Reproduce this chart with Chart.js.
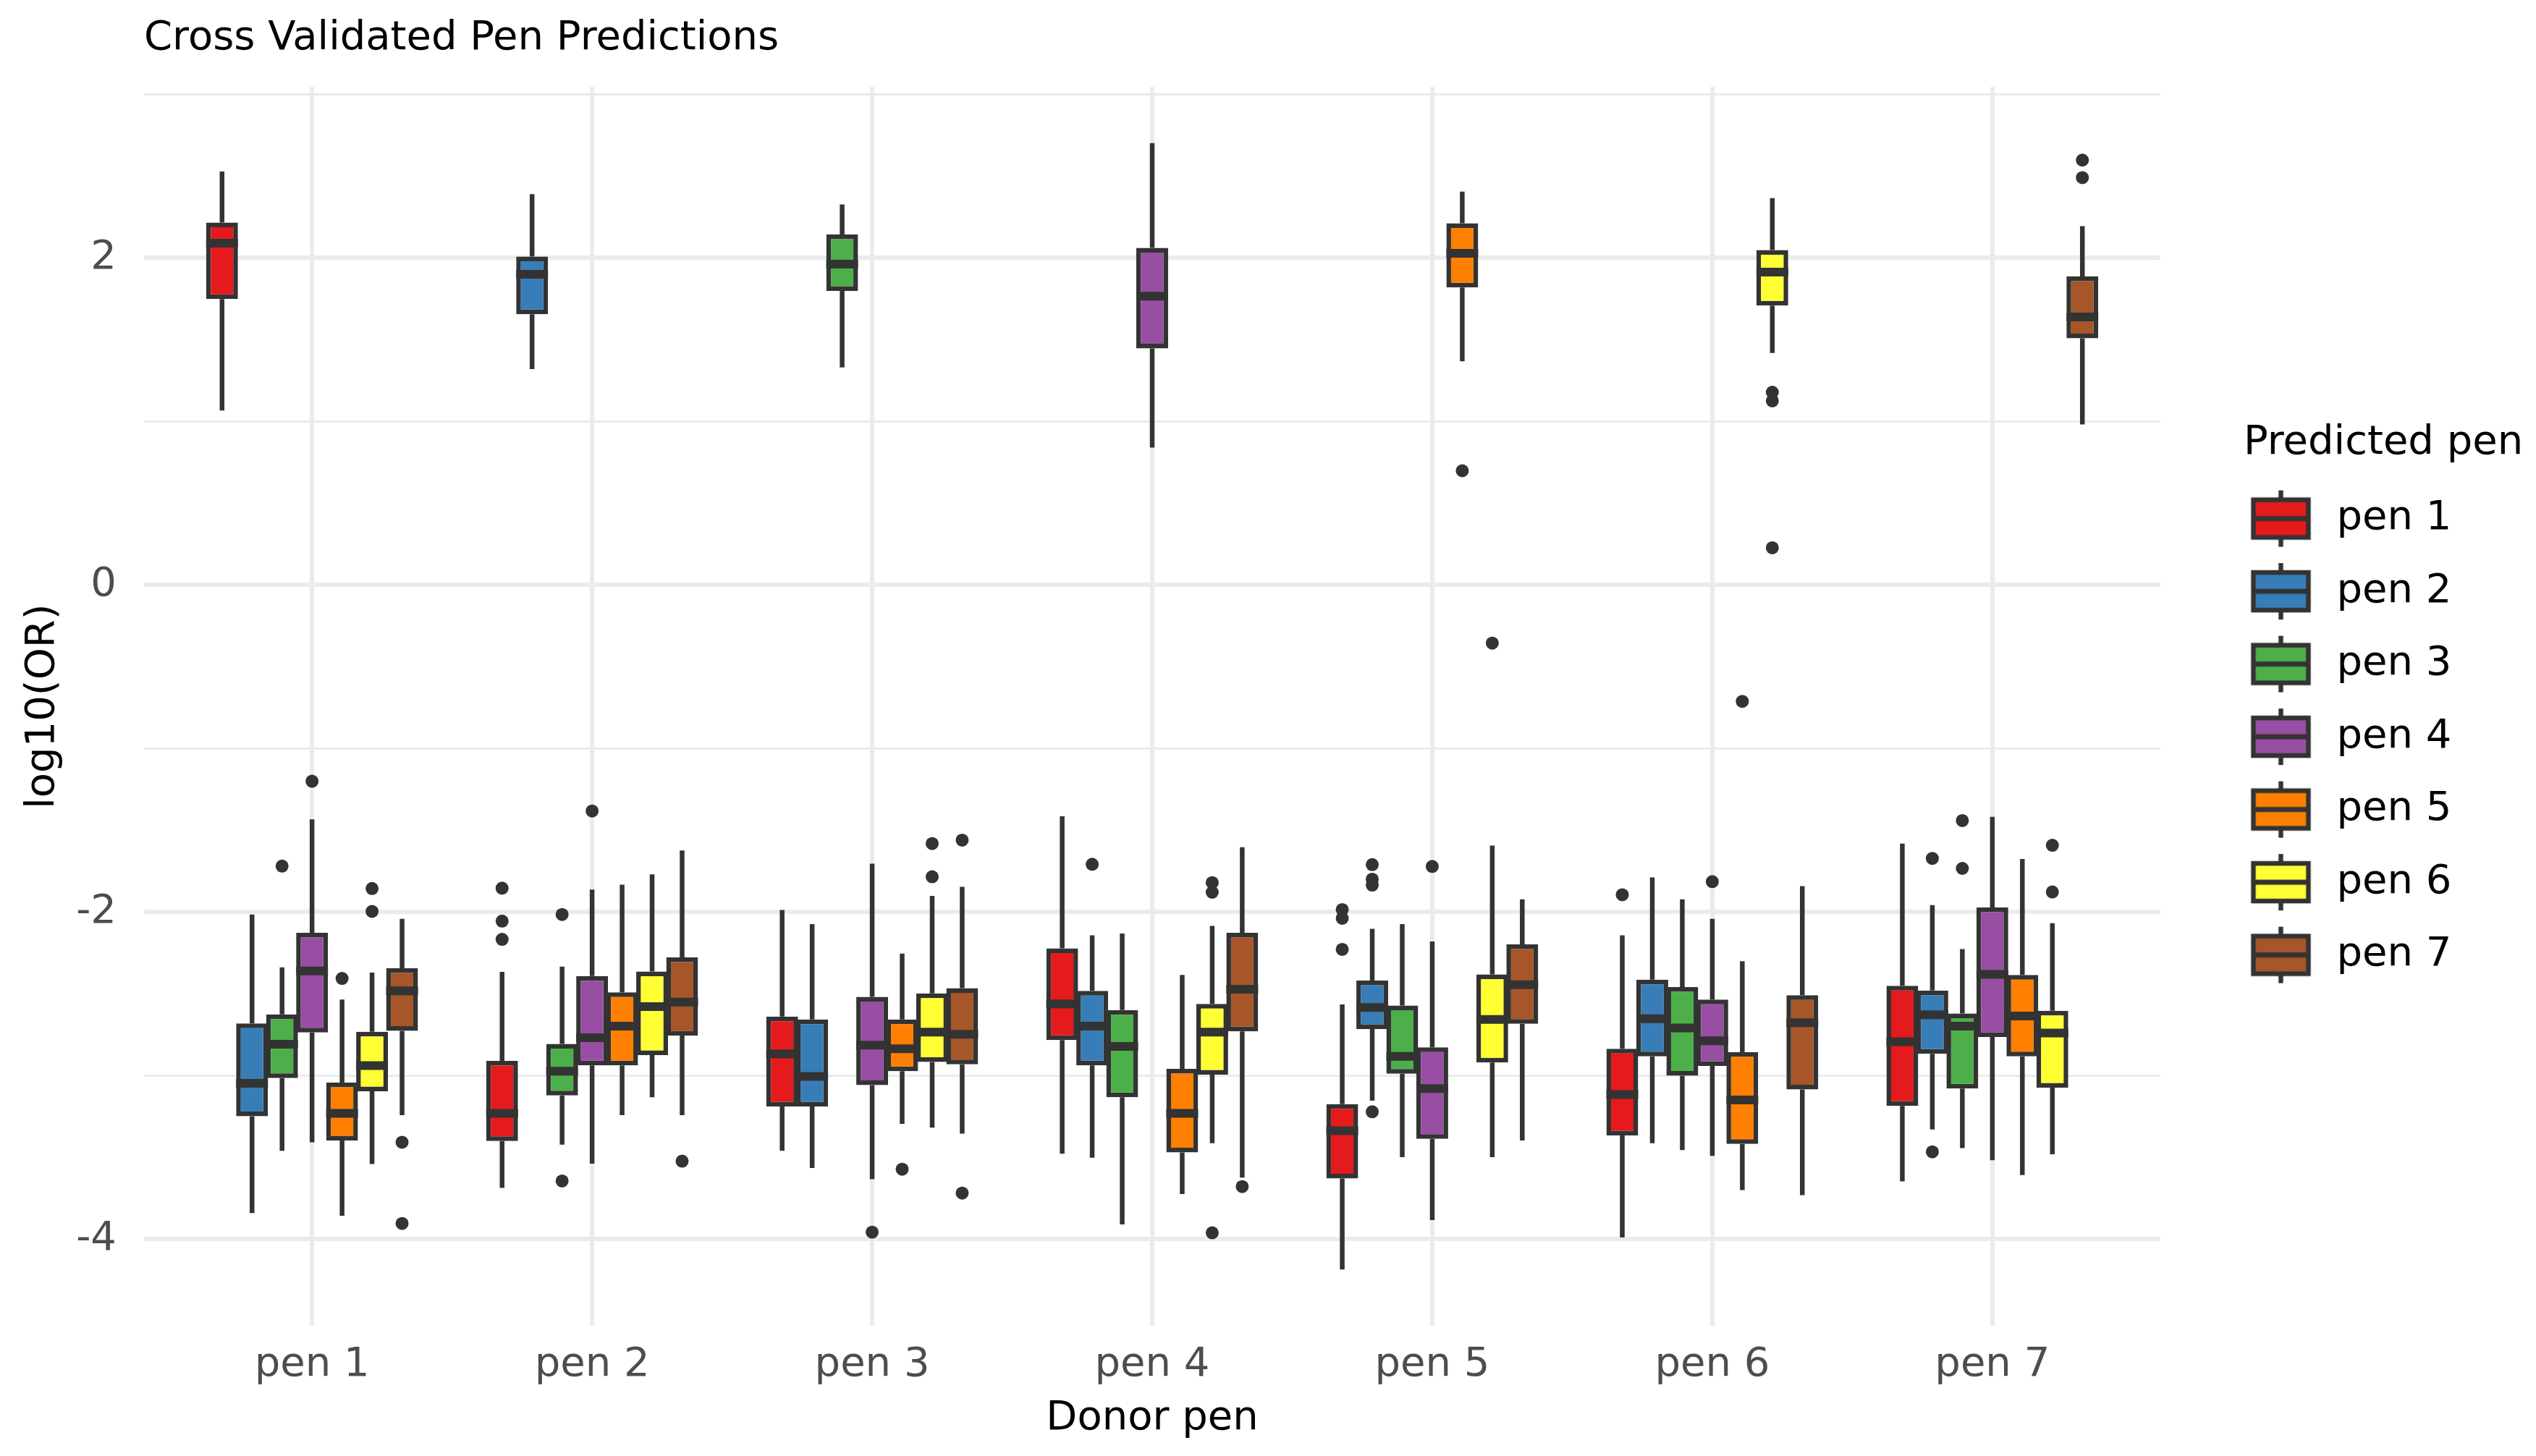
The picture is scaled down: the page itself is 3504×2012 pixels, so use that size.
<!DOCTYPE html>
<html>
<head>
<meta charset="utf-8">
<title>Cross Validated Pen Predictions</title>
<script src="https://cdn.jsdelivr.net/npm/chart.js@4.4.1/dist/chart.umd.min.js"></script>
<style>
    html, body { margin: 0; padding: 0; background: #ffffff; }
    #wrap { width: 3504px; height: 2012px; }
</style>
</head>
<body>
<div id="wrap"><canvas id="myChart" width="3504" height="2012"></canvas></div>
<script>
// Donor pens on the x axis, predicted pens as the dodged boxes
const donorPens = ["pen 1", "pen 2", "pen 3", "pen 4", "pen 5", "pen 6", "pen 7"];
const predictedPens = ["pen 1", "pen 2", "pen 3", "pen 4", "pen 5", "pen 6", "pen 7"];
const yTickLabels = ["-4", "-2", "0", "2"];

// rows = predicted pen, columns = donor pen (log10 OR)
const whiskerLow = [
    [1.066, -3.686, -3.460, -3.477, -4.185, -3.989, -3.646],
    [-3.840, 1.319, -3.565, -3.502, -3.153, -3.413, -3.329],
    [-3.460, -3.422, 1.329, -3.910, -3.498, -3.455, -3.443],
    [-3.407, -3.538, -3.633, 0.839, -3.883, -3.491, -3.517],
    [-3.857, -3.242, -3.295, -3.724, 1.367, -3.699, -3.608],
    [-3.540, -3.132, -3.318, -3.413, -3.498, 1.418, -3.481],
    [-3.242, -3.242, -3.354, -3.623, -3.396, -3.730, 0.981]
];
const lowerQuartile = [
    [1.747, -3.400, -3.189, -2.783, -3.629, -3.365, -3.185],
    [-3.248, 1.655, -3.189, -2.937, -2.715, -2.882, -2.867],
    [-3.015, -3.121, 1.797, -3.132, -2.988, -3.001, -3.079],
    [-2.736, -2.937, -3.058, 1.446, -3.386, -2.941, -2.764],
    [-3.396, -2.937, -2.973, -3.470, 1.818, -3.417, -2.882],
    [-3.096, -2.874, -2.916, -2.994, -2.920, 1.708, -3.073],
    [-2.726, -2.755, -2.931, -2.730, -2.683, -3.085, 1.508]
];
const medians = [
    [2.089, -3.231, -2.867, -2.561, -3.337, -3.115, -2.793],
    [-3.047, 1.899, -3.005, -2.698, -2.584, -2.652, -2.628],
    [-2.808, -2.973, 1.961, -2.821, -2.882, -2.709, -2.698],
    [-2.360, -2.768, -2.814, 1.765, -3.079, -2.787, -2.381],
    [-3.231, -2.698, -2.836, -3.231, 2.027, -3.149, -2.635],
    [-2.939, -2.578, -2.734, -2.734, -2.656, 1.912, -2.740],
    [-2.482, -2.550, -2.747, -2.472, -2.444, -2.677, 1.638]
];
const upperQuartile = [
    [2.215, -2.910, -2.639, -2.222, -3.174, -2.836, -2.451],
    [-2.681, 2.008, -2.656, -2.482, -2.419, -2.413, -2.480],
    [-2.626, -2.806, 2.142, -2.599, -2.571, -2.459, -2.620],
    [-2.127, -2.391, -2.518, 2.061, -2.827, -2.535, -1.972],
    [-3.043, -2.491, -2.656, -2.958, 2.211, -2.857, -2.385],
    [-2.732, -2.364, -2.497, -2.561, -2.381, 2.047, -2.603],
    [-2.343, -2.277, -2.465, -2.127, -2.197, -2.508, 1.886]
];
const whiskerHigh = [
    [2.527, -2.366, -1.987, -1.414, -2.565, -2.142, -1.581],
    [-2.015, 2.389, -2.074, -2.142, -2.102, -1.788, -1.958],
    [-2.338, -2.334, 2.326, -2.131, -2.074, -1.922, -2.226],
    [-1.433, -1.862, -1.704, 2.701, -2.180, -2.042, -1.418],
    [-2.535, -1.833, -2.254, -2.385, 2.405, -2.300, -1.676],
    [-2.370, -1.769, -1.901, -2.085, -1.594, 2.365, -2.068],
    [-2.042, -1.623, -1.846, -1.604, -1.922, -1.841, 2.193]
];
const outliers = [
    [[], [-1.854, -2.055, -2.167], [], [], [-1.985, -2.038, -2.228], [-1.894], []],
    [[], [], [], [-1.708], [-1.710, -1.799, -1.835, -3.221], [], [-1.672, -3.466]],
    [[-1.719], [-2.015, -3.644], [], [], [], [], [-1.441, -1.733]],
    [[-1.200], [-1.382], [-3.957], [], [-1.721], [-1.814], []],
    [[-2.406], [], [-3.572], [], [0.698], [-0.712], []],
    [[-1.856, -1.996], [], [-1.581, -1.784], [-1.820, -1.879, -3.961], [-0.356], [1.178, 1.125, 0.227], [-1.592, -1.877]],
    [[-3.407, -3.904], [-3.523], [-1.560, -3.718], [-3.678], [], [], [2.597, 2.490]]
];

// ColorBrewer Set1
const penColors = ["#E41A1C", "#377EB8", "#4DAF4A", "#984EA3", "#FF7F00", "#FFFF33", "#A65628"];
const ink = "#333333";
const gridColor = "#EBEBEB";

Chart.defaults.font.family = "'DejaVu Sans', sans-serif";
Chart.defaults.font.size = 56;
Chart.defaults.color = "#4D4D4D";

// small boxplot picture for each legend key
function makeLegendGlyph(color) {
    const c = document.createElement("canvas");
    c.width = 140;
    c.height = 84;
    const g = c.getContext("2d");
    const cx = 49, cy = 42;
    g.strokeStyle = ink;
    g.lineWidth = 6.5;
    g.beginPath();
    g.moveTo(cx, 3);
    g.lineTo(cx, 81);
    g.stroke();
    g.fillStyle = color;
    g.fillRect(cx - 38, cy - 26, 76, 52);
    g.strokeRect(cx - 38, cy - 26, 76, 52);
    g.lineWidth = 7;
    g.beginPath();
    g.moveTo(cx - 38, cy);
    g.lineTo(cx + 38, cy);
    g.stroke();
    return c;
}
const legendGlyphs = penColors.map(makeLegendGlyph);

// whiskers under the boxes, medians and outliers on top
const boxDetails = {
    id: "boxDetails",
    beforeDatasetsDraw(chart) {
        const ctx = chart.ctx;
        const y = chart.scales.y;
        ctx.save();
        ctx.strokeStyle = ink;
        ctx.lineWidth = 6.5;
        chart.data.datasets.forEach((ds, d) => {
            chart.getDatasetMeta(d).data.forEach((bar, c) => {
                ctx.beginPath();
                ctx.moveTo(bar.x, y.getPixelForValue(whiskerHigh[d][c]));
                ctx.lineTo(bar.x, y.getPixelForValue(upperQuartile[d][c]));
                ctx.moveTo(bar.x, y.getPixelForValue(lowerQuartile[d][c]));
                ctx.lineTo(bar.x, y.getPixelForValue(whiskerLow[d][c]));
                ctx.stroke();
            });
        });
        ctx.restore();
    },
    afterDatasetsDraw(chart) {
        const ctx = chart.ctx;
        const y = chart.scales.y;
        ctx.save();
        ctx.strokeStyle = ink;
        ctx.fillStyle = ink;
        chart.data.datasets.forEach((ds, d) => {
            chart.getDatasetMeta(d).data.forEach((bar, c) => {
                const my = y.getPixelForValue(medians[d][c]);
                ctx.lineWidth = 12;
                ctx.beginPath();
                ctx.moveTo(bar.x - bar.width / 2, my);
                ctx.lineTo(bar.x + bar.width / 2, my);
                ctx.stroke();
                outliers[d][c].forEach(v => {
                    ctx.beginPath();
                    ctx.arc(bar.x, y.getPixelForValue(v), 9, 0, Math.PI * 2);
                    ctx.fill();
                });
            });
        });
        ctx.restore();
    }
};

// legend box is made wide enough for its title, which Chart.js would clip
const legendWidth = {
    id: "legendWidth",
    beforeLayout(chart) {
        const lg = chart.legend;
        if (lg && !lg.widthPatched) {
            const fit = lg.fit.bind(lg);
            lg.fit = function () {
                fit();
                this.width = 404;
            };
            lg.widthPatched = true;
        }
    }
};

const datasets = predictedPens.map((name, d) => ({
    label: name,
    data: donorPens.map((p, c) => ({ x: c + 1, y: [lowerQuartile[d][c], upperQuartile[d][c]] })),
    backgroundColor: penColors[d],
    borderColor: ink,
    borderWidth: 6.5,
    borderSkipped: false,
    barPercentage: 1.06,
    categoryPercentage: 0.75
}));

new Chart(document.getElementById("myChart"), {
    type: "bar",
    data: { datasets },
    plugins: [boxDetails, legendWidth],
    options: {
        responsive: false,
        devicePixelRatio: 1,
        animation: false,
        events: [],
        layout: { padding: 0 },
        plugins: {
            tooltip: { enabled: false },
            title: {
                display: true,
                text: "Cross Validated Pen Predictions",
                align: "start",
                fullSize: false,
                color: "#000000",
                font: { size: 56, weight: "normal", lineHeight: 1.2 },
                padding: { top: 20, bottom: 33 }
            },
            legend: {
                position: "right",
                align: "center",
                fullSize: false,
                title: {
                    display: true,
                    text: "Predicted pen",
                    position: "start",
                    color: "#000000",
                    font: { size: 56, lineHeight: 1 },
                    padding: { top: 24, bottom: 4 }
                },
                labels: {
                    color: "#000000",
                    font: { size: 56 },
                    usePointStyle: true,
                    pointStyleWidth: 56,
                    padding: 44.5,
                    generateLabels: chart => chart.data.datasets.map((ds, i) => ({
                        text: ds.label,
                        datasetIndex: i,
                        pointStyle: legendGlyphs[i],
                        fillStyle: penColors[i],
                        strokeStyle: ink,
                        lineWidth: 0,
                        hidden: false
                    }))
                }
            }
        },
        scales: {
            x: {
                type: "linear",
                min: 0.4,
                max: 7.6,
                offset: false,
                grid: { color: gridColor, lineWidth: 6, drawTicks: false, offset: false },
                border: { display: false },
                ticks: {
                    stepSize: 1,
                    includeBounds: false,
                    autoSkip: false,
                    maxRotation: 0,
                    padding: 21,
                    color: "#4D4D4D",
                    callback: v => donorPens[v - 1] || ""
                },
                title: {
                    display: true,
                    text: "Donor pen",
                    color: "#000000",
                    font: { size: 56 },
                    padding: { top: 0, bottom: 18 }
                },
                afterFit: s => { s.height = 180; }
            },
            y: {
                min: -4.529,
                max: 3.044,
                beginAtZero: false,
                grid: {
                    color: gridColor,
                    drawTicks: false,
                    lineWidth: ctx => (ctx.tick && ctx.tick.value % 2 === 0 ? 6 : 3)
                },
                border: { display: false },
                ticks: {
                    stepSize: 1,
                    includeBounds: false,
                    padding: 38,
                    color: "#4D4D4D",
                    callback: v => (yTickLabels.includes(String(v)) ? String(v) : "")
                },
                title: {
                    display: true,
                    text: "log10(OR)",
                    color: "#000000",
                    font: { size: 56 },
                    padding: { top: 26, bottom: 0 }
                },
                afterFit: s => { s.width = 199; }
            },
            // empty axis: keeps the gap between the panel and the legend
            gap: {
                type: "linear",
                position: "right",
                grid: { display: false },
                border: { display: false },
                ticks: { display: false },
                afterFit: s => { s.width = 115; }
            }
        }
    }
});
</script>
</body>
</html>
